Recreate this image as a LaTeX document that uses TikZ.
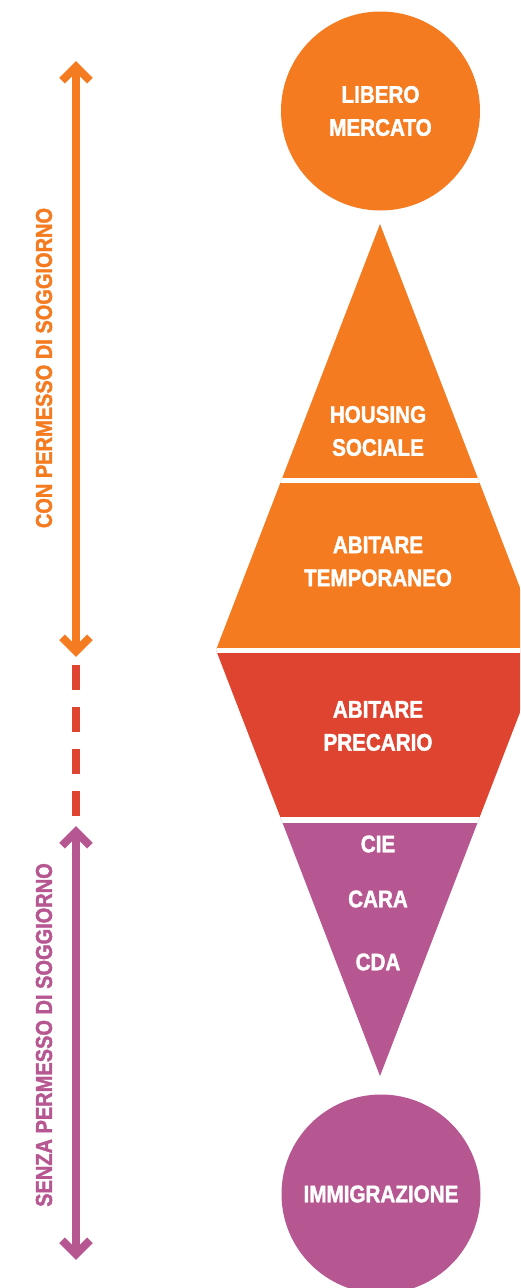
\documentclass[tikz,border=0pt]{standalone}
\usepackage{fontspec}
\setmainfont{Liberation Sans}
\newfontfamily\condfont{Liberation Sans Bold}[FakeStretch=0.86, FakeBold=1.6]
\newfontfamily\sidefont{Liberation Sans Bold}[FakeStretch=0.87, FakeBold=1.6]
\usetikzlibrary{calc}
\definecolor{mkorange}{HTML}{F47B20}
\definecolor{mkred}{HTML}{DF4430}
\definecolor{mkpurple}{HTML}{B75791}
\begin{document}
\begin{tikzpicture}[x=1pt,y=-1pt,
  boxtext/.style={text=white, font=\condfont\fontsize{24}{33}\selectfont,
                  align=center, inner sep=0pt},
  disc/.style={circle, minimum size=199pt, inner sep=0pt, fill=#1, text=white,
               font=\condfont\fontsize{24}{33}\selectfont, align=center},
  sidelabel/.style={rotate=90, text=#1, inner sep=0pt,
                    font=\sidefont\fontsize{23}{23}\selectfont},
  bar/.style={draw=#1, line width=8pt},
  chev/.style={draw=#1, line width=8pt, miter limit=10},
  gapline/.style={draw=white, line width=#1},
]
% page frame
\clip (0,0) rectangle (520,1288);
\fill[white] (0,0) rectangle (520,1288);

% the stacked diamond of housing levels
\begin{scope}
  \clip (380,224) -- (544,650) -- (380,1076) -- (216,650) -- cycle;
  \fill[mkorange] (200,200) rectangle (560,650);
  \fill[mkred]    (200,650) rectangle (560,820);
  \fill[mkpurple] (200,820) rectangle (560,1100);
  \draw[gapline=5pt]   (200,480.5) -- (560,480.5);
  \draw[gapline=5pt]   (200,650.5) -- (560,650.5);
  \draw[gapline=5.4pt] (200,820)   -- (560,820);
\end{scope}

% end points
\node[disc=mkorange] (libero) at (380.5,111) {LIBERO\\MERCATO};
\node[disc=mkpurple] (immig) at (381,1194) {IMMIGRAZIONE};

% level labels
\node[boxtext] (housing) at (378,431) {HOUSING\\SOCIALE};
\node[boxtext] (temp) at (378,561.5) {ABITARE\\TEMPORANEO};
\node[boxtext] (prec) at (378,726) {ABITARE\\PRECARIO};
\node[boxtext] (cie)  at (378,844) {CIE};
\node[boxtext] (cara) at (378,899) {CARA};
\node[boxtext] (cda)  at (378,962) {CDA};

% side scale: with / without residence permit
\coordinate (conTop) at (76,66.7);
\coordinate (conBot) at (76,651.3);
\coordinate (dashTop) at (76,665);
\coordinate (dashBot) at (76,817);
\coordinate (senTop) at (76,831.7);
\coordinate (senBot) at (76,1254.3);

\draw[bar=mkorange] (conTop) -- (conBot);
\draw[chev=mkorange] ($(conTop)+(-14,14)$) -- (conTop) -- ($(conTop)+(14,14)$);
\draw[chev=mkorange] ($(conBot)+(-14,-14)$) -- (conBot) -- ($(conBot)+(14,-14)$);

\draw[bar=mkred, dash pattern=on 25pt off 17pt] (dashTop) -- (dashBot);

\draw[bar=mkpurple] (senTop) -- (senBot);
\draw[chev=mkpurple] ($(senTop)+(-14,14)$) -- (senTop) -- ($(senTop)+(14,14)$);
\draw[chev=mkpurple] ($(senBot)+(-14,-14)$) -- (senBot) -- ($(senBot)+(14,-14)$);

\node[sidelabel=mkorange] (con) at (44,368) {CON PERMESSO DI SOGGIORNO};
\node[sidelabel=mkpurple] (senza) at (44,1035) {SENZA PERMESSO DI SOGGIORNO};
\end{tikzpicture}
\end{document}
